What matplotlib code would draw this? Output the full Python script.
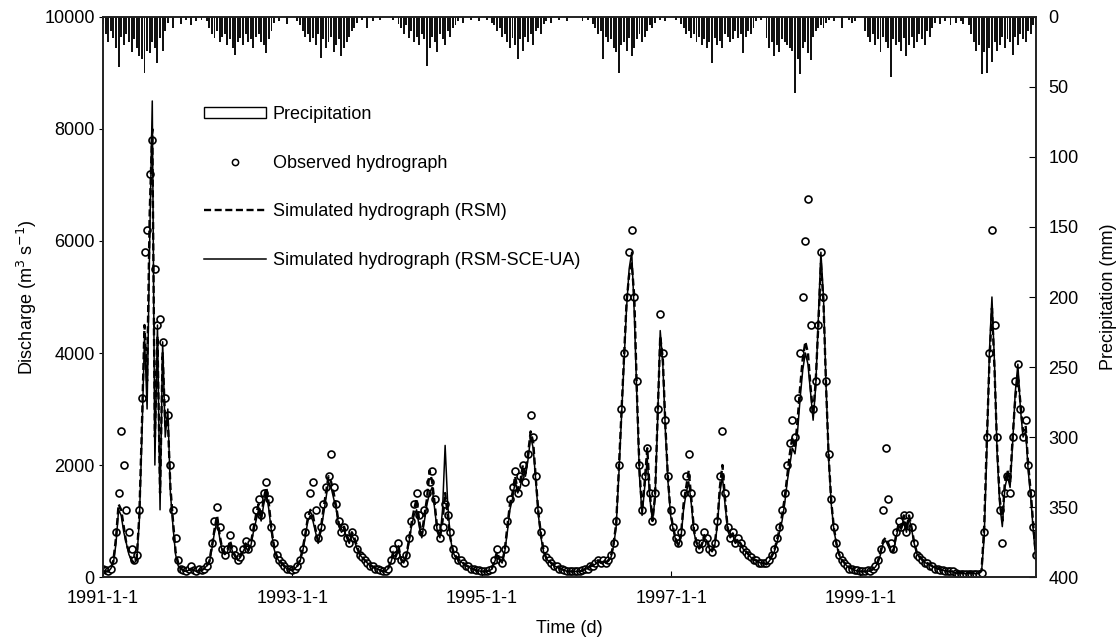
import numpy as np
import matplotlib.pyplot as plt
from matplotlib.patches import Patch
from matplotlib.lines import Line2D

plt.rcParams['font.family'] = ['Liberation Sans', 'DejaVu Sans']
plt.rcParams['font.size'] = 13

# values every 10 days from 1991-1-1, one row per year
obs = [
    150, 120, 100, 150, 300, 800, 1500, 2600, 2000, 1200, 800, 500, 300, 400, 1200, 3200, 5800, 6200, 7200, 7800, 5500, 4500, 4600, 4200, 3200, 2900, 2000, 1200, 700, 300, 150, 120, 100, 150, 200, 120, 100,
    150, 120, 150, 200, 300, 600, 1000, 1250, 900, 500, 400, 500, 750, 500, 400, 300, 350, 500, 650, 500, 600, 900, 1200, 1400, 1100, 1500, 1700, 1400, 900, 600, 400, 300, 250, 200, 150, 150, 120,
    150, 200, 300, 500, 800, 1100, 1500, 1700, 1200, 700, 900, 1300, 1600, 1800, 2200, 1600, 1300, 1000, 800, 900, 700, 600, 800, 700, 500, 400, 350, 300, 250, 200, 200, 150, 150, 120, 100, 100,
    150, 300, 500, 400, 600, 300, 250, 400, 700, 1000, 1300, 1500, 1100, 800, 1200, 1500, 1700, 1900, 1400, 900, 700, 900, 1300, 1100, 800, 500, 400, 300, 300, 250, 200, 200, 150, 150, 120, 120, 100,
    100, 100, 120, 150, 300, 500, 300, 250, 500, 1000, 1400, 1600, 1900, 1500, 1800, 2000, 1700, 2200, 2900, 2500, 1800, 1200, 800, 500, 350, 300, 250, 200, 200, 150, 150, 120, 100, 100, 100, 100,
    100, 100, 120, 150, 150, 200, 200, 250, 300, 250, 300, 250, 300, 400, 600, 1000, 2000, 3000, 4000, 5000, 5800, 6200, 5000, 3500, 2000, 1200, 1800, 2300, 1500, 1000, 1500, 3000, 4700, 4000, 2800, 1800, 1200,
    900, 700, 600, 800, 1500, 1800, 2200, 1500, 900, 600, 500, 600, 800, 700, 500, 450, 600, 1000, 1800, 2600, 1500, 900, 700, 800, 600, 700, 600, 500, 450, 400, 350, 300, 300, 250, 250, 250,
    250, 300, 400, 500, 700, 900, 1200, 1500, 2000, 2400, 2800, 2500, 3200, 4000, 5000, 6000, 6750, 4500, 3000, 3500, 4500, 5800, 5000, 3500, 2200, 1400, 900, 600, 400, 300, 250, 200, 150, 150, 120, 120, 100,
    100, 100, 120, 100, 150, 200, 300, 500, 1200, 2300, 1400, 600, 500, 800, 1000, 900, 1100, 800, 1100, 900, 600, 400, 350, 300, 250, 250, 200, 200, 150, 150, 120, 120, 100, 100, 100, 100,
    80, 60, 50, 60, 50, 60, 50, 60, 50, 60, 80, 800, 2500, 4000, 6200, 4500, 2500, 1200, 600, 1500, 1800, 1500, 2500, 3500, 3800, 3000, 2500, 2800, 2000, 1500, 900, 400,
]

rsm = [
    100, 100, 100, 150, 300, 700, 1300, 1200, 900, 600, 450, 300, 250, 350, 1100, 2700, 4500, 3500, 6500, 8000, 2500, 4300, 1500, 4000, 2700, 2800, 1600, 1000, 450, 250, 150, 120, 100, 120, 150, 120, 100,
    120, 120, 150, 200, 280, 550, 850, 1100, 750, 500, 420, 480, 650, 480, 380, 320, 380, 480, 600, 480, 600, 850, 1100, 1300, 1050, 1400, 1600, 1300, 850, 550, 380, 300, 250, 200, 160, 140, 120,
    150, 200, 300, 500, 750, 1050, 1200, 1100, 850, 650, 850, 1200, 1500, 1800, 1700, 1500, 1250, 950, 850, 900, 750, 650, 800, 700, 550, 420, 360, 300, 260, 210, 190, 160, 140, 120, 100, 100,
    150, 280, 450, 380, 550, 320, 260, 380, 650, 950, 1200, 1400, 1000, 750, 1100, 1400, 1900, 1700, 1300, 850, 700, 1000, 1500, 1100, 700, 480, 380, 320, 290, 250, 210, 190, 160, 140, 120, 110, 100,
    100, 100, 120, 150, 280, 450, 320, 270, 480, 900, 1300, 1500, 1800, 1550, 1700, 2000, 1850, 2200, 2600, 2400, 1750, 1150, 750, 480, 340, 290, 250, 210, 190, 160, 140, 120, 100, 100, 100, 100,
    100, 100, 120, 150, 160, 200, 210, 250, 300, 260, 300, 260, 300, 380, 600, 950, 1900, 2900, 3900, 4900, 5400, 5600, 5000, 3300, 1900, 1200, 1700, 2300, 1500, 1000, 1450, 2900, 4300, 3900, 2700, 1750, 1150,
    880, 680, 580, 750, 1300, 1600, 1900, 1400, 850, 620, 520, 580, 750, 680, 520, 470, 580, 950, 1600, 2000, 1400, 880, 720, 780, 620, 680, 600, 520, 460, 410, 360, 320, 300, 270, 260, 250,
    230, 290, 380, 480, 650, 850, 1100, 1400, 1800, 2200, 2500, 2300, 2800, 3400, 3900, 4200, 4000, 3400, 2900, 3500, 4500, 5600, 4900, 3400, 2150, 1350, 880, 600, 410, 310, 260, 210, 170, 150, 130, 110, 100,
    100, 100, 120, 110, 150, 200, 280, 450, 650, 700, 600, 480, 470, 750, 950, 880, 1100, 850, 1100, 880, 620, 440, 370, 320, 270, 250, 220, 200, 170, 150, 140, 120, 110, 100, 100, 100,
    80, 80, 80, 80, 80, 80, 80, 80, 80, 80, 120, 900, 2400, 3800, 4800, 3700, 2300, 1400, 1000, 1700, 1900, 1700, 2500, 3200, 3600, 3100, 2600, 2700, 2000, 1500, 900, 350,
]

sce = [
    100, 100, 100, 150, 250, 600, 1200, 1100, 800, 600, 400, 300, 250, 300, 1000, 2500, 4300, 3000, 6000, 8500, 2000, 4500, 1200, 4200, 2500, 3000, 1500, 900, 400, 200, 150, 120, 100, 120, 150, 120, 100,
    120, 120, 150, 200, 250, 500, 800, 1000, 700, 450, 400, 450, 600, 450, 350, 300, 350, 450, 550, 450, 550, 800, 1000, 1200, 1000, 1300, 1500, 1200, 800, 500, 350, 280, 230, 180, 150, 130, 120,
    150, 200, 280, 450, 700, 1000, 1100, 1000, 800, 600, 800, 1100, 1400, 1700, 1600, 1400, 1200, 900, 800, 850, 700, 600, 750, 650, 500, 400, 350, 300, 250, 200, 180, 150, 140, 120, 100, 100,
    150, 250, 400, 350, 500, 300, 250, 350, 600, 900, 1100, 1200, 900, 700, 1000, 1300, 1500, 1600, 1200, 800, 700, 1200, 2350, 1300, 700, 450, 350, 300, 280, 240, 200, 180, 150, 140, 120, 110, 100,
    100, 100, 110, 140, 250, 400, 300, 250, 450, 800, 1200, 1400, 1700, 1500, 1600, 1900, 1800, 2100, 2500, 2300, 1700, 1100, 700, 450, 330, 280, 240, 200, 180, 150, 140, 120, 100, 100, 100, 100,
    100, 100, 110, 140, 150, 180, 200, 230, 280, 250, 280, 250, 280, 350, 550, 900, 1800, 2800, 3800, 4800, 5500, 5800, 4700, 3200, 1800, 1100, 1600, 2100, 1400, 1000, 1400, 2800, 4400, 3800, 2600, 1700, 1100,
    850, 650, 550, 700, 1200, 1500, 1700, 1300, 800, 600, 500, 550, 700, 650, 500, 450, 550, 900, 1500, 1800, 1300, 850, 700, 750, 600, 650, 580, 500, 450, 400, 350, 300, 290, 260, 250, 240,
    220, 280, 350, 450, 600, 800, 1000, 1300, 1700, 2000, 2300, 2200, 2600, 3200, 3700, 4000, 3800, 3300, 2800, 3400, 4600, 5800, 5000, 3400, 2100, 1300, 850, 580, 400, 300, 250, 200, 160, 150, 120, 110, 100,
    100, 100, 110, 100, 130, 180, 250, 400, 600, 650, 550, 450, 450, 700, 900, 850, 1000, 800, 1050, 850, 600, 420, 350, 300, 260, 240, 210, 190, 160, 150, 130, 120, 110, 100, 100, 100,
    60, 60, 60, 60, 60, 60, 60, 60, 60, 60, 100, 700, 2200, 4000, 5000, 3800, 2200, 1300, 900, 1600, 1800, 1600, 2400, 3300, 3800, 3000, 2500, 2600, 1900, 1400, 800, 300,
]

# largest daily rainfall in each 10-day step (mm)
rain = [
    5, 12, 18, 10, 15, 22, 36, 14, 20, 12, 18, 25, 16, 22, 28, 30, 40, 24, 26, 18, 22, 33, 15, 24, 10, 4, 0, 8, 0, 0, 5, 0, 2, 0, 6, 0, 3,
    0, 2, 0, 3, 8, 12, 15, 10, 18, 14, 12, 20, 16, 22, 27, 18, 15, 20, 12, 18, 16, 22, 14, 12, 18, 20, 26, 16, 10, 4, 0, 3, 0, 0, 5, 0, 0,
    0, 3, 6, 10, 14, 12, 18, 15, 20, 12, 29, 16, 22, 18, 14, 25, 20, 16, 28, 22, 18, 14, 10, 8, 4, 0, 2, 0, 8, 0, 3, 0, 0, 2, 0, 0,
    0, 0, 2, 0, 5, 8, 12, 6, 15, 10, 18, 14, 20, 12, 16, 35, 22, 14, 18, 25, 12, 16, 20, 10, 14, 8, 6, 3, 0, 4, 0, 0, 2, 0, 0, 3, 0,
    0, 2, 0, 4, 6, 10, 8, 14, 12, 18, 22, 15, 20, 30, 16, 24, 14, 18, 12, 20, 10, 8, 12, 5, 3, 0, 4, 0, 0, 2, 0, 0, 3, 0, 0, 0,
    0, 0, 3, 0, 2, 0, 5, 8, 12, 10, 30, 14, 18, 16, 22, 25, 40, 20, 18, 24, 15, 28, 22, 16, 12, 18, 14, 10, 6, 8, 4, 0, 2, 0, 3, 0, 0,
    0, 2, 0, 5, 8, 12, 10, 15, 12, 18, 14, 20, 16, 22, 18, 33, 15, 20, 17, 22, 12, 14, 18, 16, 10, 15, 12, 26, 14, 10, 12, 8, 3, 0, 2, 0,
    15, 22, 18, 28, 20, 25, 16, 18, 20, 22, 24, 54, 30, 41, 22, 18, 26, 31, 14, 10, 8, 6, 8, 4, 2, 0, 3, 0, 0, 8, 0, 0, 2, 4, 3, 0, 0,
    0, 10, 14, 18, 12, 20, 16, 25, 14, 18, 22, 43, 16, 20, 18, 24, 15, 28, 20, 14, 22, 18, 12, 16, 20, 10, 14, 8, 4, 0, 5, 0, 3, 0, 6, 0,
    4, 0, 3, 5, 0, 6, 12, 18, 24, 20, 41, 25, 40, 22, 32, 18, 24, 20, 14, 22, 16, 18, 27, 14, 20, 12, 16, 18, 10, 12, 6, 8,
]

tick_days = [0, 731, 1461, 2192, 2922]
tick_labels = ['1991-1-1', '1993-1-1', '1995-1-1', '1997-1-1', '1999-1-1']

assert len(obs) == len(rsm) == len(sce) == len(rain)
day = np.arange(len(obs)) * 10

fig = plt.figure(figsize=(11.2, 6.43), dpi=100)
ax = fig.add_axes([0.092, 0.1026, 0.833, 0.871])

ax.plot(day, obs, 'o', ms=5, mfc='white', mec='black', mew=1.2, zorder=2)
ax.plot(day, rsm, color='black', lw=1.7, ls=(0, (3, 1.5)), zorder=3)
ax.plot(day, sce, color='black', lw=1.1, zorder=4)

ax.set_xlim(0, 3600)
ax.set_ylim(0, 10000)
ax.set_xticks(tick_days)
ax.set_xticklabels(tick_labels)
ax.set_yticks(range(0, 10001, 2000))
ax.tick_params(axis='x', direction='in', length=4, pad=9)
ax.tick_params(axis='y', direction='out', length=3, pad=3)
ax.set_xlabel('Time (d)', labelpad=10)
ax.set_ylabel('Discharge (m$^3$ s$^{-1}$)', labelpad=4)

ax2 = ax.twinx()
ax2.bar(day, rain, width=7.5, color='#111111', align='center')
ax2.set_ylim(400, 0)
ax2.set_yticks(range(0, 401, 50))
ax2.tick_params(axis='y', direction='in', length=5, pad=9)
ax2.set_ylabel('Precipitation (mm)', labelpad=15)

for a in (ax, ax2):
    for s in a.spines.values():
        s.set_linewidth(1.2)
        s.set_color('#222222')

handles = [
    Patch(facecolor='white', edgecolor='black', lw=1.0),
    Line2D([], [], marker='o', ls='none', ms=4.5, mfc='white', mec='black', mew=1.1),
    Line2D([], [], color='black', lw=1.7, ls=(0, (3, 1.5))),
    Line2D([], [], color='black', lw=1.1),
]
labels = ['Precipitation', 'Observed hydrograph', 'Simulated hydrograph (RSM)',
          'Simulated hydrograph (RSM-SCE-UA)']
ax2.legend(handles, labels, loc='upper left', bbox_to_anchor=(0.091, 0.87),
           frameon=False, handlelength=3.4, handleheight=0.6, handletextpad=0.4,
           labelspacing=1.75, numpoints=1)

fig.savefig('out.png', dpi=100)
